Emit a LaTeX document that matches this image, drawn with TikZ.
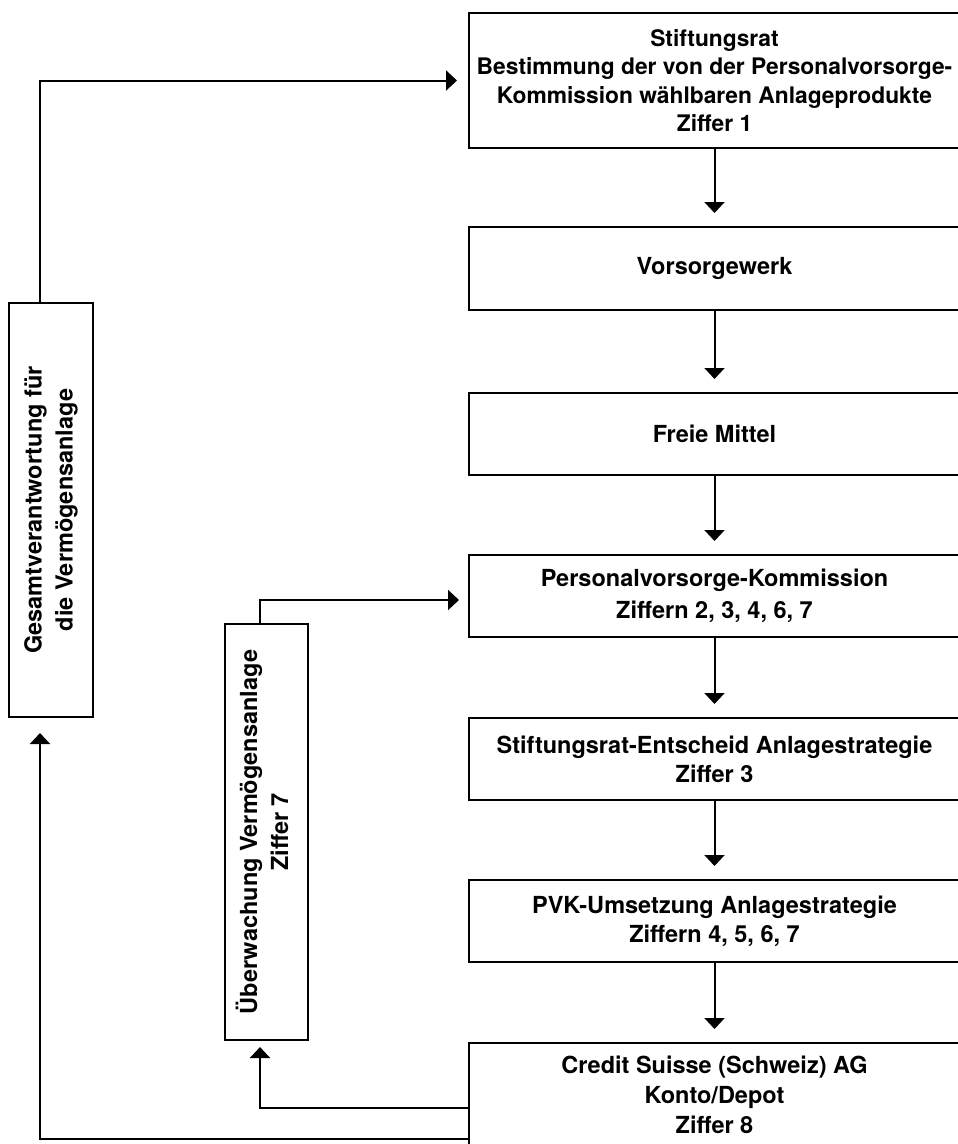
\documentclass[tikz,border=0pt]{standalone}
\usepackage{fontspec}
\usepackage{graphicx}
\setmainfont{TeX Gyre Heros}
\usetikzlibrary{arrows.meta}
\tikzset{
  box/.style={draw=black, line width=1.4pt, rectangle, inner sep=0pt, outer sep=0pt,
    align=center, text=black, font=\fontsize{23.5}{29}\selectfont\bfseries},
  conn/.style={draw=black, line width=2pt, -{Triangle[length=11pt,width=20pt]}},
}
\begin{document}
\begin{tikzpicture}[x=1pt,y=-1pt]
\useasboundingbox (0,0) rectangle (958,1144);
\clip (0,0) rectangle (958,1144);
\fill[white] (0,0) rectangle (958,1144);

\node[box, minimum width=491, minimum height=135, font=\fontsize{22.8}{28.3}\selectfont\bfseries] (b1) at (714.5,80.5)
  {Stiftungsrat\\Bestimmung der von der Personalvorsorge-\\Kommission wählbaren Anlageprodukte\\Ziffer 1};
\node[box, minimum width=491, minimum height=83] (b2) at (714.5,268.5) {Vorsorgewerk};
\node[box, minimum width=491, minimum height=82] (b3) at (714.5,434) {Freie Mittel};
\node[box, minimum width=491, minimum height=82, font=\fontsize{23.5}{32}\selectfont\bfseries] (b4) at (714.5,596)
  {Personalvorsorge-Kommission\\Ziffern 2, 3, 4, 6, 7};
\node[box, minimum width=491, minimum height=82] (b5) at (714.5,759)
  {Stiftungsrat-Entscheid Anlagestrategie\\Ziffer 3};
\node[box, minimum width=491, minimum height=82] (b6) at (714.5,921)
  {PVK-Umsetzung Anlagestrategie\\Ziffern 4, 5, 6, 7};
\node[box, minimum width=491, minimum height=104, font=\fontsize{23.5}{30}\selectfont\bfseries] (b7) at (714.5,1095)
  {Credit Suisse (Schweiz) AG\\Konto/Depot\\Ziffer 8};

\node[box, minimum width=84, minimum height=414, font=\fontsize{23.5}{31}\selectfont\bfseries] (g) at (51,510)
  {\rotatebox{90}{\begin{tabular}{@{}c@{}}Gesamtverantwortung für\\die Vermögensanlage\end{tabular}}};
\node[box, minimum width=83, minimum height=416, font=\fontsize{23.5}{31}\selectfont\bfseries] (u) at (266.5,832)
  {\rotatebox{90}{\begin{tabular}{@{}c@{}}Überwachung Vermögensanlage\\Ziffer 7\end{tabular}}};

\draw[conn, shorten >=14pt] (b1) -- (b2);
\draw[conn, shorten >=14pt] (b2) -- (b3);
\draw[conn, shorten >=14pt] (b3) -- (b4);
\draw[conn, shorten >=14pt] (b4) -- (b5);
\draw[conn, shorten >=14pt] (b5) -- (b6);
\draw[conn, shorten >=14pt] (b6) -- (b7);

\draw[conn, shorten >=12pt] ([xshift=-11pt]g.north) |- (b1.west);
\draw[conn, shorten >=10pt] ([xshift=-6.5pt]u.north) |- ([yshift=-4pt]b4.west);
\draw[conn, shorten >=7pt] ([yshift=-65pt]b7.north west) -| ([xshift=-6.5pt]u.south);
\draw[conn, shorten >=16pt] ([yshift=-96pt]b7.north west) -| ([xshift=-11pt]g.south);
\end{tikzpicture}
\end{document}
